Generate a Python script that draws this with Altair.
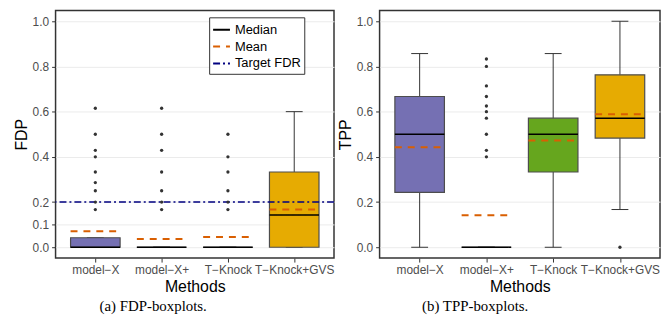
import altair as alt
import pandas as pd

methods = ["model−X", "model−X+", "T−Knock", "T−Knock+GVS"]
box_colors = ["#7570B3", "#E7298A", "#66A61E", "#E6AB02"]

# ---- FDP panel values ----
fdp_q1 = [0.0, 0.0, 0.0, 0.0]
fdp_median = [0.0, 0.0, 0.0, 0.143]
fdp_q3 = [0.042, 0.0, 0.0, 0.333]
fdp_lo = [0.0, 0.0, 0.0, 0.0]
fdp_hi = [0.042, 0.0, 0.0, 0.6]
fdp_mean = [0.071, 0.037, 0.045, 0.167]
fdp_out_mx = [0.615, 0.5, 0.429, 0.4, 0.333, 0.286, 0.25, 0.2, 0.167]
fdp_out_mxp = [0.615, 0.5, 0.429, 0.333, 0.25, 0.2, 0.167]
fdp_out_tk = [0.5, 0.4, 0.333, 0.25, 0.2, 0.167]
fdp_out_gvs = []
target_fdr = [0.2]
fdp_ticks = [0.0, 0.1, 0.2, 0.4, 0.6, 0.8, 1.0]

# ---- TPP panel values ----
tpp_q1 = [0.243, 0.0, 0.333, 0.483]
tpp_median = [0.5, 0.0, 0.5, 0.571]
tpp_q3 = [0.667, 0.0, 0.571, 0.763]
tpp_lo = [0.0, 0.0, 0.0, 0.167]
tpp_hi = [0.857, 0.0, 0.857, 1.0]
tpp_mean = [0.443, 0.142, 0.472, 0.589]
tpp_out_mx = []
tpp_out_mxp = [0.833, 0.8, 0.714, 0.667, 0.625, 0.6, 0.571, 0.5, 0.429, 0.4]
tpp_out_tk = []
tpp_out_gvs = [0.0]
tpp_ticks = [0.0, 0.2, 0.4, 0.6, 0.8, 1.0]

stat_names = ["Median", "Mean", "Target FDR"]
stat_colors = ["black", "#D95F02", "#000080"]
stat_dashes = [[1, 0], [7, 6], [7, 3, 2, 3]]

FONT = "Liberation Sans"


def panel(q1, med, q3, lo, hi, mean, outs, ylabel, ticks, nstats, caption,
          dx, width, lx, ly, target=None):
    stats = pd.DataFrame({"method": methods, "q1": q1, "median": med,
                          "q3": q3, "lo": lo, "hi": hi, "mean": mean})
    out_df = pd.DataFrame(
        [(m, v) for m, vals in zip(methods, outs) for v in vals],
        columns=["method", "value"])

    x = alt.X("method:N",
              scale=alt.Scale(type="point", domain=methods, padding=0.6),
              axis=alt.Axis(title="Methods", labelAngle=0))
    ys = alt.Scale(domain=[-0.048, 1.048], nice=False, zero=False)
    yaxis = alt.Axis(title=ylabel, values=ticks, format=".1f")

    leg = alt.Legend(title=None, orient="none", legendX=lx, legendY=ly,
                     symbolType="stroke", symbolSize=289,
                     symbolStrokeWidth=2, labelFontSize=13, labelFont=FONT,
                     labelColor="black", fillColor="white",
                     strokeColor="#333333", padding=3, rowPadding=0,
                     labelOffset=4, symbolOffset=0)
    cscale = alt.Scale(domain=stat_names[:nstats], range=stat_colors[:nstats])
    dscale = alt.Scale(domain=stat_names[:nstats], range=stat_dashes[:nstats])
    col = alt.Color("stat:N", scale=cscale, legend=leg)
    dash = alt.StrokeDash("stat:N", scale=dscale, legend=leg)

    base = alt.Chart(stats)
    whisk_hi = base.mark_rule(color="#333333", strokeWidth=1).encode(
        x=x, y=alt.Y("q3:Q", scale=ys, axis=yaxis), y2="hi:Q")
    whisk_lo = base.mark_rule(color="#333333", strokeWidth=1).encode(
        x=x, y=alt.Y("lo:Q", scale=ys), y2="q1:Q")
    cap_hi = base.mark_rule(color="#333333", strokeWidth=1,
                            xOffset=-8.5, x2Offset=8.5).encode(
        x=x, x2="method:N", y=alt.Y("hi:Q", scale=ys))
    cap_lo = base.mark_rule(color="#333333", strokeWidth=1,
                            xOffset=-8.5, x2Offset=8.5).encode(
        x=x, x2="method:N", y=alt.Y("lo:Q", scale=ys))
    boxes = base.mark_bar(size=50, stroke="#4D4D4D", strokeWidth=1.2).encode(
        x=x, y=alt.Y("q1:Q", scale=ys), y2="q3:Q",
        fill=alt.Fill("method:N",
                      scale=alt.Scale(domain=methods, range=box_colors),
                      legend=None))
    median = base.transform_calculate(stat="'Median'").mark_rule(
        strokeWidth=1.4, xOffset=-25, x2Offset=25).encode(
        x=x, x2="method:N", y=alt.Y("median:Q", scale=ys),
        color=col, strokeDash=dash)
    meanl = base.transform_calculate(stat="'Mean'").mark_rule(
        strokeWidth=2, xOffset=-25, x2Offset=25).encode(
        x=x, x2="method:N", y=alt.Y("mean:Q", scale=ys),
        color=col, strokeDash=dash)
    layers = [whisk_hi, whisk_lo, cap_hi, cap_lo, boxes, median, meanl]
    if target is not None:
        tl = alt.Chart(pd.DataFrame({"t": target})).transform_calculate(
            stat="'Target FDR'").mark_rule(strokeWidth=1.5).encode(
            y=alt.Y("t:Q", scale=ys), color=col, strokeDash=dash)
        layers.append(tl)
    pts = alt.Chart(out_df).mark_circle(size=11, color="#333333",
                                        opacity=1).encode(
        x=x, y=alt.Y("value:Q", scale=ys))
    layers.append(pts)
    return alt.layer(*layers).properties(
        width=width, height=250,
        title=alt.TitleParams(caption, orient="bottom", anchor="middle",
                              frame="group", dx=dx, offset=4,
                              font="Liberation Serif", fontSize=15,
                              fontWeight="normal", color="black"))


left = panel(fdp_q1, fdp_median, fdp_q3, fdp_lo, fdp_hi, fdp_mean,
             [fdp_out_mx, fdp_out_mxp, fdp_out_tk, fdp_out_gvs],
             "FDP", fdp_ticks, 3, "(a) FDP-boxplots.", -42, 281, 155, 7,
             target=target_fdr)
right = panel(tpp_q1, tpp_median, tpp_q3, tpp_lo, tpp_hi, tpp_mean,
              [tpp_out_mx, tpp_out_mxp, tpp_out_tk, tpp_out_gvs],
              "TPP", tpp_ticks, 2, "(b) TPP-boxplots.", -45, 283, 142, 5)

chart = alt.hconcat(left, right, spacing=0).properties(
    padding={"left": 4, "top": 0, "right": 0, "bottom": 0}
).configure_view(stroke="#333333", strokeWidth=1.5).configure_axis(
    labelFont=FONT, labelFontSize=12, labelColor="#4D4D4D",
    titleFont=FONT, titleFontSize=16, titleFontWeight="normal",
    titleColor="black", tickColor="#333333", tickSize=4, labelPadding=3,
    domain=False, gridColor="#EBEBEB", gridWidth=1, titlePadding=3
)

chart.save("out.html", embed_options={"renderer": "svg", "actions": False})
